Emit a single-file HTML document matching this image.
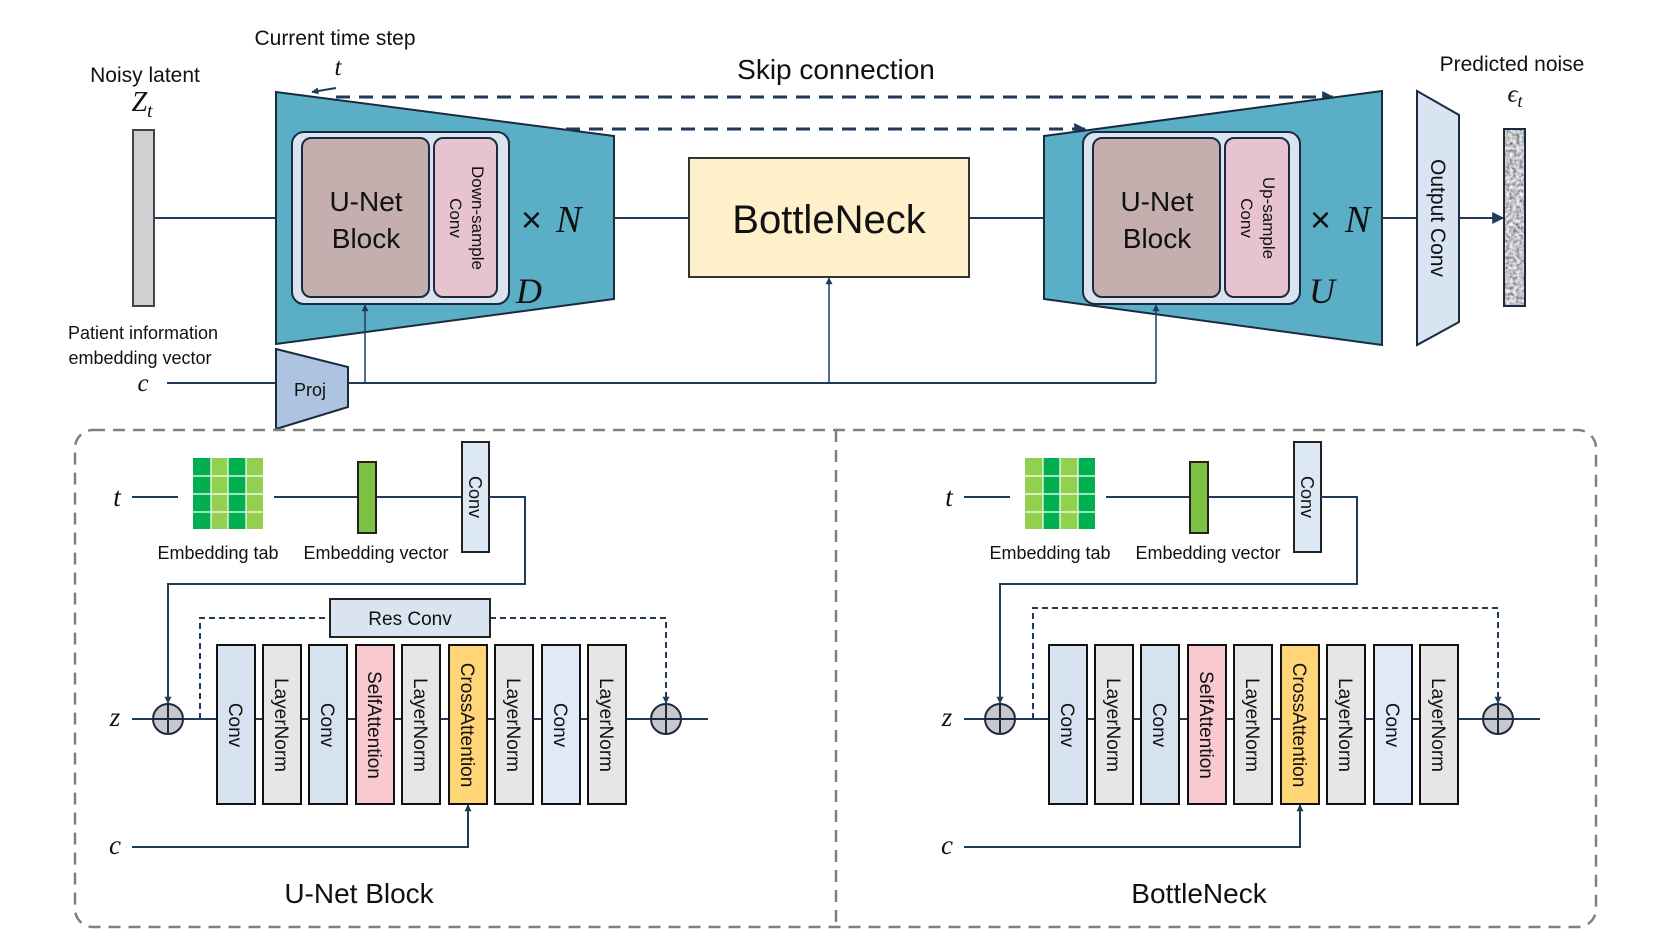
<!DOCTYPE html>
<html><head><meta charset="utf-8"><style>
html,body{margin:0;padding:0;background:#fff;}
svg{display:block;}
.s{font-family:"Liberation Sans",sans-serif;fill:#111;}
.m{font-family:"Liberation Serif",serif;font-style:italic;fill:#111;}
</style></head><body>
<svg width="1661" height="934" viewBox="0 0 1661 934" xmlns="http://www.w3.org/2000/svg">
<defs>
<marker id="ar" viewBox="0 0 10 10" refX="9" refY="5" markerWidth="7" markerHeight="7" orient="auto-start-reverse" markerUnits="userSpaceOnUse">
<path d="M0,0 L10,5 L0,10 z" fill="#1f3a5a"/></marker>
<marker id="arL" viewBox="0 0 10 10" refX="9" refY="5" markerWidth="12" markerHeight="12" orient="auto" markerUnits="userSpaceOnUse">
<path d="M0,0 L10,5 L0,10 z" fill="#1f3a5a"/></marker>
<filter id="noise" filterUnits="userSpaceOnUse" x="1504" y="129" width="21" height="177">
<feTurbulence type="fractalNoise" baseFrequency="0.3" numOctaves="2" seed="3" result="t"/>
<feColorMatrix in="t" type="matrix" values="1.3 0 0 0 -0.1  1.3 0 0 0 -0.1  1.3 0 0 0 -0.08  0 0 0 0 1"/>
</filter>
</defs>

<!-- Top labels -->
<text class="s" x="335" y="45" font-size="21" text-anchor="middle">Current time step</text>
<text class="m" x="338" y="75" font-size="25" text-anchor="middle">t</text>
<text class="s" x="145" y="82" font-size="21" text-anchor="middle">Noisy latent</text>
<text class="m" x="142" y="111" font-size="28" text-anchor="middle">Z<tspan font-size="19" dy="6">t</tspan></text>
<text class="s" x="836" y="79" font-size="28" text-anchor="middle">Skip connection</text>
<text class="s" x="1512" y="71" font-size="21" text-anchor="middle">Predicted noise</text>
<text class="m" x="1515" y="102" font-size="25" text-anchor="middle">ϵ<tspan font-size="18" dy="5">t</tspan></text>
<text class="s" x="143" y="339" font-size="18" text-anchor="middle">Patient information</text>
<text class="s" x="140" y="364" font-size="18" text-anchor="middle">embedding vector</text>
<text class="m" x="143" y="391" font-size="25" text-anchor="middle">c</text>

<!-- noisy latent bar -->
<line x1="154" y1="218" x2="276" y2="218" stroke="#1f3a5a" stroke-width="2"/>
<rect x="133" y="130" width="21" height="176" fill="#d0cfd2" stroke="#444" stroke-width="2"/>

<!-- encoder -->
<polygon points="276,92 614,136 614,299 276,344" fill="#5aaec6" stroke="#1a2a40" stroke-width="2"/>
<rect x="292" y="132" width="217" height="172" rx="12" fill="#dae3f0" stroke="#1a2a40" stroke-width="2"/>
<rect x="302" y="138" width="127" height="159" rx="9" fill="#c4aeae" stroke="#1a2a40" stroke-width="2"/>
<rect x="434" y="138" width="63" height="159" rx="9" fill="#e6c3ce" stroke="#1a2a40" stroke-width="2"/>
<text class="s" x="366" y="211" font-size="28" text-anchor="middle">U-Net</text>
<text class="s" x="366" y="248" font-size="28" text-anchor="middle">Block</text>
<g transform="translate(466,218) rotate(90)">
<text class="s" x="0" y="-6" font-size="17" text-anchor="middle">Down-sample</text>
<text class="s" x="0" y="16" font-size="17" text-anchor="middle">Conv</text></g>
<text class="s" x="521" y="232" font-size="36">×</text>
<text class="m" x="556" y="232" font-size="38">N</text>
<text class="m" x="516" y="303" font-size="36">D</text>

<!-- time arrow -->
<line x1="336" y1="88" x2="312" y2="92" stroke="#1f3a5a" stroke-width="2" marker-end="url(#ar)"/>

<!-- skip dashes -->
<line x1="336" y1="97" x2="1333" y2="97" stroke="#1f3a5a" stroke-width="3" stroke-dasharray="14 9" marker-end="url(#arL)"/>
<line x1="566" y1="129" x2="1085" y2="129" stroke="#1f3a5a" stroke-width="3" stroke-dasharray="14 9" marker-end="url(#arL)"/>

<!-- bottleneck -->
<line x1="614" y1="218" x2="689" y2="218" stroke="#1f3a5a" stroke-width="2"/>
<line x1="969" y1="218" x2="1044" y2="218" stroke="#1f3a5a" stroke-width="2"/>
<rect x="689" y="158" width="280" height="119" fill="#fff0cc" stroke="#333" stroke-width="2"/>
<text class="s" x="829" y="233" font-size="40" text-anchor="middle">BottleNeck</text>

<!-- decoder -->
<polygon points="1044,136 1382,91 1382,345 1044,299" fill="#5aaec6" stroke="#1a2a40" stroke-width="2"/>
<rect x="1083" y="132" width="217" height="172" rx="12" fill="#dae3f0" stroke="#1a2a40" stroke-width="2"/>
<rect x="1093" y="138" width="127" height="159" rx="9" fill="#c4aeae" stroke="#1a2a40" stroke-width="2"/>
<rect x="1225" y="138" width="64" height="159" rx="9" fill="#e6c3ce" stroke="#1a2a40" stroke-width="2"/>
<text class="s" x="1157" y="211" font-size="28" text-anchor="middle">U-Net</text>
<text class="s" x="1157" y="248" font-size="28" text-anchor="middle">Block</text>
<g transform="translate(1257,218) rotate(90)">
<text class="s" x="0" y="-6" font-size="17" text-anchor="middle">Up-sample</text>
<text class="s" x="0" y="16" font-size="17" text-anchor="middle">Conv</text></g>
<text class="s" x="1310" y="232" font-size="36">×</text>
<text class="m" x="1345" y="232" font-size="38">N</text>
<text class="m" x="1309" y="303" font-size="36">U</text>

<!-- output conv -->
<line x1="1382" y1="218" x2="1417" y2="218" stroke="#1f3a5a" stroke-width="2"/>
<polygon points="1417,91 1459,115 1459,322 1417,345" fill="#d9e4f2" stroke="#1a2a40" stroke-width="2"/>
<g transform="translate(1438,218) rotate(90)"><text class="s" x="0" y="7" font-size="21" text-anchor="middle">Output Conv</text></g>
<line x1="1459" y1="218" x2="1503" y2="218" stroke="#1f3a5a" stroke-width="2" marker-end="url(#arL)"/>
<rect x="1504" y="129" width="21" height="177" fill="#a8a8ac"/>
<rect x="1504" y="129" width="21" height="177" fill="#fff" filter="url(#noise)"/>
<rect x="1504" y="129" width="21" height="177" fill="none" stroke="#1a2a40" stroke-width="2"/>

<!-- c lines -->
<line x1="167" y1="383" x2="276" y2="383" stroke="#1f3a5a" stroke-width="2"/>
<polygon points="276,349 348,367 348,407 276,429" fill="#adc4e0" stroke="#1a2a40" stroke-width="2"/>
<text class="s" x="310" y="396" font-size="18" text-anchor="middle">Proj</text>
<polyline points="348,383 1156,383" fill="none" stroke="#1f3a5a" stroke-width="2"/>
<line x1="365" y1="383" x2="365" y2="305" stroke="#1f3a5a" stroke-width="1.5" marker-end="url(#ar)"/>
<line x1="829" y1="383" x2="829" y2="278" stroke="#1f3a5a" stroke-width="1.5" marker-end="url(#ar)"/>
<line x1="1156" y1="383" x2="1156" y2="305" stroke="#1f3a5a" stroke-width="1.5" marker-end="url(#ar)"/>

<!-- bottom dashed box -->
<rect x="75" y="430" width="1521" height="497" rx="18" fill="none" stroke="#808080" stroke-width="2.5" stroke-dasharray="12 8"/>
<line x1="836" y1="430" x2="836" y2="927" stroke="#808080" stroke-width="2.5" stroke-dasharray="12 8"/>

<g id="panelL">
<text class="m" x="117" y="506" font-size="27" text-anchor="middle">t</text>
<line x1="132" y1="497" x2="178" y2="497" stroke="#1f3a5a" stroke-width="2"/>
<line x1="274" y1="497" x2="525" y2="497" stroke="#1f3a5a" stroke-width="2"/>
<g>
<rect x="193" y="458" width="18" height="18" fill="#00b050"/><rect x="211" y="458" width="17" height="18" fill="#92d050"/><rect x="228" y="458" width="18" height="18" fill="#00b050"/><rect x="246" y="458" width="17" height="18" fill="#92d050"/>
<rect x="193" y="476" width="18" height="18" fill="#00b050"/><rect x="211" y="476" width="17" height="18" fill="#92d050"/><rect x="228" y="476" width="18" height="18" fill="#00b050"/><rect x="246" y="476" width="17" height="18" fill="#92d050"/>
<rect x="193" y="494" width="18" height="18" fill="#00b050"/><rect x="211" y="494" width="17" height="18" fill="#92d050"/><rect x="228" y="494" width="18" height="18" fill="#00b050"/><rect x="246" y="494" width="17" height="18" fill="#92d050"/>
<rect x="193" y="512" width="18" height="17" fill="#00b050"/><rect x="211" y="512" width="17" height="17" fill="#92d050"/><rect x="228" y="512" width="18" height="17" fill="#00b050"/><rect x="246" y="512" width="17" height="17" fill="#92d050"/>
<path d="M193,476H263M193,494H263M193,512H263M211,458V529M228,458V529M246,458V529" stroke="#fff" stroke-width="1.2"/>
</g>
<rect x="358" y="462" width="18" height="71" fill="#7dc242" stroke="#222" stroke-width="2"/>
<rect x="462" y="442" width="27" height="110" fill="#dde8f5" stroke="#222" stroke-width="2"/>
<g transform="translate(475,497) rotate(90)"><text class="s" x="0" y="6" font-size="18" text-anchor="middle">Conv</text></g>
<text class="s" x="218" y="559" font-size="18" text-anchor="middle">Embedding tab</text>
<text class="s" x="376" y="559" font-size="18" text-anchor="middle">Embedding vector</text>
<polyline points="489,497 525,497 525,584 168,584 168,703" fill="none" stroke="#1f3a5a" stroke-width="2" marker-end="url(#ar)"/>
<text class="m" x="115" y="726" font-size="27" text-anchor="middle">z</text>
<line x1="132" y1="719" x2="708" y2="719" stroke="#1f3a5a" stroke-width="2"/>
<circle cx="168" cy="719" r="15" fill="#c8c8cc" stroke="#1a2a40" stroke-width="2"/>
<path d="M153,719H183M168,704V734" stroke="#1a2a40" stroke-width="2"/>
<circle cx="666" cy="719" r="15" fill="#c8c8cc" stroke="#1a2a40" stroke-width="2"/>
<path d="M651,719H681M666,704V734" stroke="#1a2a40" stroke-width="2"/>
<polyline points="200,719 200,618 330,618" fill="none" stroke="#1f3a5a" stroke-width="2" stroke-dasharray="6 4"/>
<polyline points="490,618 666,618 666,703" fill="none" stroke="#1f3a5a" stroke-width="2" stroke-dasharray="6 4" marker-end="url(#ar)"/>
<rect x="330" y="599" width="160" height="38" fill="#d9e4f0" stroke="#222" stroke-width="2"/>
<text class="s" x="410" y="625" font-size="19" text-anchor="middle">Res Conv</text>
</g>

<g id="stackL">
<rect x="217" y="645" width="38" height="159" fill="#d6e2f0" stroke="#111" stroke-width="2"/>
<rect x="263" y="645" width="38" height="159" fill="#e6e6e6" stroke="#111" stroke-width="2"/>
<rect x="309" y="645" width="38" height="159" fill="#d6e2f0" stroke="#111" stroke-width="2"/>
<rect x="356" y="645" width="38" height="159" fill="#f8c9cf" stroke="#111" stroke-width="2"/>
<rect x="402" y="645" width="38" height="159" fill="#e6e6e6" stroke="#111" stroke-width="2"/>
<rect x="449" y="645" width="38" height="159" fill="#ffd577" stroke="#111" stroke-width="2"/>
<rect x="495" y="645" width="38" height="159" fill="#e6e6e6" stroke="#111" stroke-width="2"/>
<rect x="542" y="645" width="38" height="159" fill="#dfe9f8" stroke="#111" stroke-width="2"/>
<rect x="588" y="645" width="38" height="159" fill="#e6e6e6" stroke="#111" stroke-width="2"/>
<g font-size="19" text-anchor="middle">
<text class="s" transform="translate(236,725) rotate(90)" y="7">Conv</text>
<text class="s" transform="translate(282,725) rotate(90)" y="7">LayerNorm</text>
<text class="s" transform="translate(328,725) rotate(90)" y="7">Conv</text>
<text class="s" transform="translate(375,725) rotate(90)" y="7">SelfAttention</text>
<text class="s" transform="translate(421,725) rotate(90)" y="7">LayerNorm</text>
<text class="s" transform="translate(468,725) rotate(90)" y="7">CrossAttention</text>
<text class="s" transform="translate(514,725) rotate(90)" y="7">LayerNorm</text>
<text class="s" transform="translate(561,725) rotate(90)" y="7">Conv</text>
<text class="s" transform="translate(607,725) rotate(90)" y="7">LayerNorm</text>
</g>
<text class="m" x="115" y="854" font-size="27" text-anchor="middle">c</text>
<polyline points="132,847 468,847 468,805" fill="none" stroke="#1f3a5a" stroke-width="2" marker-end="url(#ar)"/>
</g>
<text class="s" x="359" y="903" font-size="28" text-anchor="middle">U-Net Block</text>

<!-- right panel -->
<g transform="translate(832,0)">
<text class="m" x="117" y="506" font-size="27" text-anchor="middle">t</text>
<line x1="132" y1="497" x2="178" y2="497" stroke="#1f3a5a" stroke-width="2"/>
<line x1="274" y1="497" x2="525" y2="497" stroke="#1f3a5a" stroke-width="2"/>
<g>
<rect x="193" y="458" width="18" height="18" fill="#92d050"/><rect x="211" y="458" width="17" height="18" fill="#00b050"/><rect x="228" y="458" width="18" height="18" fill="#92d050"/><rect x="246" y="458" width="17" height="18" fill="#00b050"/>
<rect x="193" y="476" width="18" height="18" fill="#92d050"/><rect x="211" y="476" width="17" height="18" fill="#00b050"/><rect x="228" y="476" width="18" height="18" fill="#92d050"/><rect x="246" y="476" width="17" height="18" fill="#00b050"/>
<rect x="193" y="494" width="18" height="18" fill="#92d050"/><rect x="211" y="494" width="17" height="18" fill="#00b050"/><rect x="228" y="494" width="18" height="18" fill="#92d050"/><rect x="246" y="494" width="17" height="18" fill="#00b050"/>
<rect x="193" y="512" width="18" height="17" fill="#92d050"/><rect x="211" y="512" width="17" height="17" fill="#00b050"/><rect x="228" y="512" width="18" height="17" fill="#92d050"/><rect x="246" y="512" width="17" height="17" fill="#00b050"/>
<path d="M193,476H263M193,494H263M193,512H263M211,458V529M228,458V529M246,458V529" stroke="#fff" stroke-width="1.2"/>
</g>
<rect x="358" y="462" width="18" height="71" fill="#7dc242" stroke="#222" stroke-width="2"/>
<rect x="462" y="442" width="27" height="110" fill="#dde8f5" stroke="#222" stroke-width="2"/>
<g transform="translate(475,497) rotate(90)"><text class="s" x="0" y="6" font-size="18" text-anchor="middle">Conv</text></g>
<text class="s" x="218" y="559" font-size="18" text-anchor="middle">Embedding tab</text>
<text class="s" x="376" y="559" font-size="18" text-anchor="middle">Embedding vector</text>
<polyline points="489,497 525,497 525,584 168,584 168,703" fill="none" stroke="#1f3a5a" stroke-width="2" marker-end="url(#ar)"/>
<text class="m" x="115" y="726" font-size="27" text-anchor="middle">z</text>
<line x1="132" y1="719" x2="708" y2="719" stroke="#1f3a5a" stroke-width="2"/>
<circle cx="168" cy="719" r="15" fill="#c8c8cc" stroke="#1a2a40" stroke-width="2"/>
<path d="M153,719H183M168,704V734" stroke="#1a2a40" stroke-width="2"/>
<circle cx="666" cy="719" r="15" fill="#c8c8cc" stroke="#1a2a40" stroke-width="2"/>
<path d="M651,719H681M666,704V734" stroke="#1a2a40" stroke-width="2"/>
<polyline points="201,719 201,608 666,608 666,703" fill="none" stroke="#1f3a5a" stroke-width="2" stroke-dasharray="6 4" marker-end="url(#ar)"/>
<rect x="217" y="645" width="38" height="159" fill="#d6e2f0" stroke="#111" stroke-width="2"/>
<rect x="263" y="645" width="38" height="159" fill="#e6e6e6" stroke="#111" stroke-width="2"/>
<rect x="309" y="645" width="38" height="159" fill="#d6e2f0" stroke="#111" stroke-width="2"/>
<rect x="356" y="645" width="38" height="159" fill="#f8c9cf" stroke="#111" stroke-width="2"/>
<rect x="402" y="645" width="38" height="159" fill="#e6e6e6" stroke="#111" stroke-width="2"/>
<rect x="449" y="645" width="38" height="159" fill="#ffd577" stroke="#111" stroke-width="2"/>
<rect x="495" y="645" width="38" height="159" fill="#e6e6e6" stroke="#111" stroke-width="2"/>
<rect x="542" y="645" width="38" height="159" fill="#dfe9f8" stroke="#111" stroke-width="2"/>
<rect x="588" y="645" width="38" height="159" fill="#e6e6e6" stroke="#111" stroke-width="2"/>
<g font-size="19" text-anchor="middle">
<text class="s" transform="translate(236,725) rotate(90)" y="7">Conv</text>
<text class="s" transform="translate(282,725) rotate(90)" y="7">LayerNorm</text>
<text class="s" transform="translate(328,725) rotate(90)" y="7">Conv</text>
<text class="s" transform="translate(375,725) rotate(90)" y="7">SelfAttention</text>
<text class="s" transform="translate(421,725) rotate(90)" y="7">LayerNorm</text>
<text class="s" transform="translate(468,725) rotate(90)" y="7">CrossAttention</text>
<text class="s" transform="translate(514,725) rotate(90)" y="7">LayerNorm</text>
<text class="s" transform="translate(561,725) rotate(90)" y="7">Conv</text>
<text class="s" transform="translate(607,725) rotate(90)" y="7">LayerNorm</text>
</g>
<text class="m" x="115" y="854" font-size="27" text-anchor="middle">c</text>
<polyline points="132,847 468,847 468,805" fill="none" stroke="#1f3a5a" stroke-width="2" marker-end="url(#ar)"/>
<text class="s" x="367" y="903" font-size="28" text-anchor="middle">BottleNeck</text>
</g>
</svg>
</body></html>
